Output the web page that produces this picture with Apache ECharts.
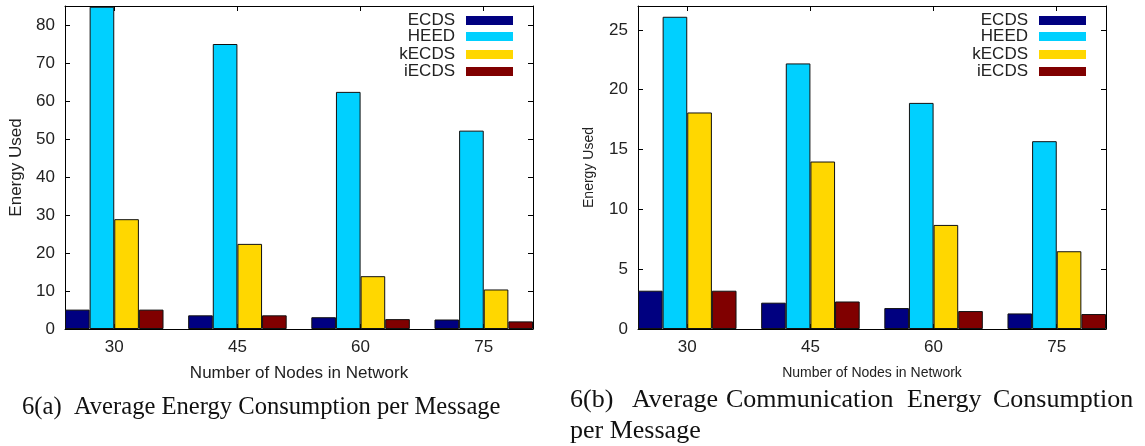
<!DOCTYPE html>
<html>
<head>
<meta charset="utf-8">
<script src="https://cdn.jsdelivr.net/npm/echarts@6/dist/echarts.min.js"></script>
<style>html,body{margin:0;padding:0;background:#fff;}#c{width:1145px;height:446px;}</style>
</head>
<body>
<div id="c"></div>
<script>
// ---- data ----
const categories = ['30', '45', '60', '75'];
const seriesNames = ['ECDS', 'HEED', 'kECDS', 'iECDS'];
// 6(a) Average Energy Consumption per Message
const ecdsA  = [5.1, 3.6, 3.1, 2.5];
const heedA  = [84.8, 75.0, 62.4, 52.2];
const kecdsA = [28.9, 22.4, 13.9, 10.4];
const iecdsA = [5.1, 3.6, 2.6, 2.0];
// 6(b) Average Communication Energy Consumption per Message
const ecdsB  = [3.2, 2.2, 1.75, 1.3];
const heedB  = [26.1, 22.2, 18.9, 15.7];
const kecdsB = [18.1, 14.0, 8.7, 6.5];
const iecdsB = [3.2, 2.3, 1.5, 1.25];
const yTicksA = [0, 10, 20, 30, 40, 50, 60, 70, 80];
const yTicksB = [0, 5, 10, 15, 20, 25];
const colors = ['#000080', '#00d0ff', '#ffd700', '#800000'];

const catIdx = categories.map((c, i) => i);
const toPairs = arr => arr.map((v, i) => [i, v]);

const font = "'Liberation Sans', Arial, sans-serif";
const lineCfg = { show: true, onZero: false, lineStyle: { color: '#000', width: 1 } };

function xAxes(gridIndex, nameSize, nameGap) {
  return [
    {
      type: 'value', gridIndex, min: -0.4, max: 3.4, position: 'bottom',
      axisLine: lineCfg, splitLine: { show: false },
      axisTick: { show: true, inside: true, length: 5, customValues: catIdx, lineStyle: { color: '#000' } },
      axisLabel: { customValues: catIdx, formatter: v => categories[Math.round(v)], fontSize: 17, color: '#222', fontFamily: font, margin: 10 },
      name: 'Number of Nodes in Network', nameLocation: 'middle', nameGap,
      nameTextStyle: { fontSize: nameSize, color: '#222', fontFamily: font }
    },
    {
      type: 'value', gridIndex, min: -0.4, max: 3.4, position: 'top',
      axisLine: lineCfg, splitLine: { show: false },
      axisTick: { show: true, inside: true, length: 5, customValues: catIdx, lineStyle: { color: '#000' } },
      axisLabel: { show: false }
    }
  ];
}
function yAxes(gridIndex, max, ticks, nameSize, nameGap) {
  return [
    {
      type: 'value', gridIndex, min: 0, max, position: 'left',
      axisLine: lineCfg, splitLine: { show: false },
      axisTick: { show: true, inside: true, length: 5, customValues: ticks, lineStyle: { color: '#000' } },
      axisLabel: { customValues: ticks, fontSize: 17, color: '#222', fontFamily: font, margin: 10 },
      name: 'Energy Used', nameLocation: 'middle', nameGap,
      nameTextStyle: { fontSize: nameSize, color: '#222', fontFamily: font }
    },
    {
      type: 'value', gridIndex, min: 0, max, position: 'right',
      axisLine: lineCfg, splitLine: { show: false },
      axisTick: { show: true, inside: true, length: 5, customValues: ticks, lineStyle: { color: '#000' } },
      axisLabel: { show: false }
    }
  ];
}

function barSeries(dataArrs, xIdx, yIdx) {
  return dataArrs.map((arr, k) => ({
    type: 'bar', name: seriesNames[k],
    xAxisIndex: xIdx, yAxisIndex: yIdx,
    data: toPairs(arr),
    barWidth: '20%', barGap: '0%',
    itemStyle: { color: colors[k], borderColor: '#111', borderWidth: 1 },
    emphasis: { disabled: true }
  }));
}

function legends(rightPx) {
  const tops = [12, 28, 46, 63];
  return seriesNames.map((n, k) => ({
    data: [n], orient: 'vertical', align: 'right', right: rightPx, top: tops[k],
    itemWidth: 47, itemHeight: 9, icon: 'rect', padding: 0,
    selectedMode: false,
    itemStyle: { borderWidth: 0 },
    textStyle: { fontSize: 17, color: '#222', fontFamily: font, padding: [0, 6, 0, 0] }
  }));
}

const capA = "24.6px 'Liberation Serif', 'Times New Roman', serif";
const capB = "26px 'Liberation Serif', 'Times New Roman', serif";
const option = {
  animation: false,
  backgroundColor: '#fff',
  grid: [
    { left: 65, right: 1145 - 533, top: 6, bottom: 446 - 329 },
    { left: 638, right: 1145 - 1106, top: 6, bottom: 446 - 329 }
  ],
  xAxis: [...xAxes(0, 17, 36), ...xAxes(1, 14, 37)],
  yAxis: [...yAxes(0, 85, yTicksA, 17, 40), ...yAxes(1, 27, yTicksB, 14, 42)],
  legend: [...legends(1145 - 513), ...legends(1145 - 1086)],
  series: [
    ...barSeries([ecdsA, heedA, kecdsA, iecdsA], 0, 0),
    ...barSeries([ecdsB, heedB, kecdsB, iecdsB], 2, 2)
  ],
  graphic: [
    { type: 'text', left: 22, top: 395, style: { text: '6(a)  Average Energy Consumption per Message', font: capA, fill: '#111' } },
    { type: 'text', left: 570, top: 387, style: { text: '6(b)', font: capB, fill: '#111' } },
    { type: 'text', left: 632, top: 387, style: { text: 'Average', font: capB, fill: '#111' } },
    { type: 'text', left: 726, top: 387, style: { text: 'Communication', font: capB, fill: '#111' } },
    { type: 'text', left: 907, top: 387, style: { text: 'Energy', font: capB, fill: '#111' } },
    { type: 'text', left: 993, top: 387, style: { text: 'Consumption', font: capB, fill: '#111' } },
    { type: 'text', left: 570, top: 418, style: { text: 'per Message', font: capB, fill: '#111' } }
  ]
};
const chart = echarts.init(document.getElementById('c'), null, { renderer: 'canvas' });
chart.setOption(option);
</script>
</body>
</html>
